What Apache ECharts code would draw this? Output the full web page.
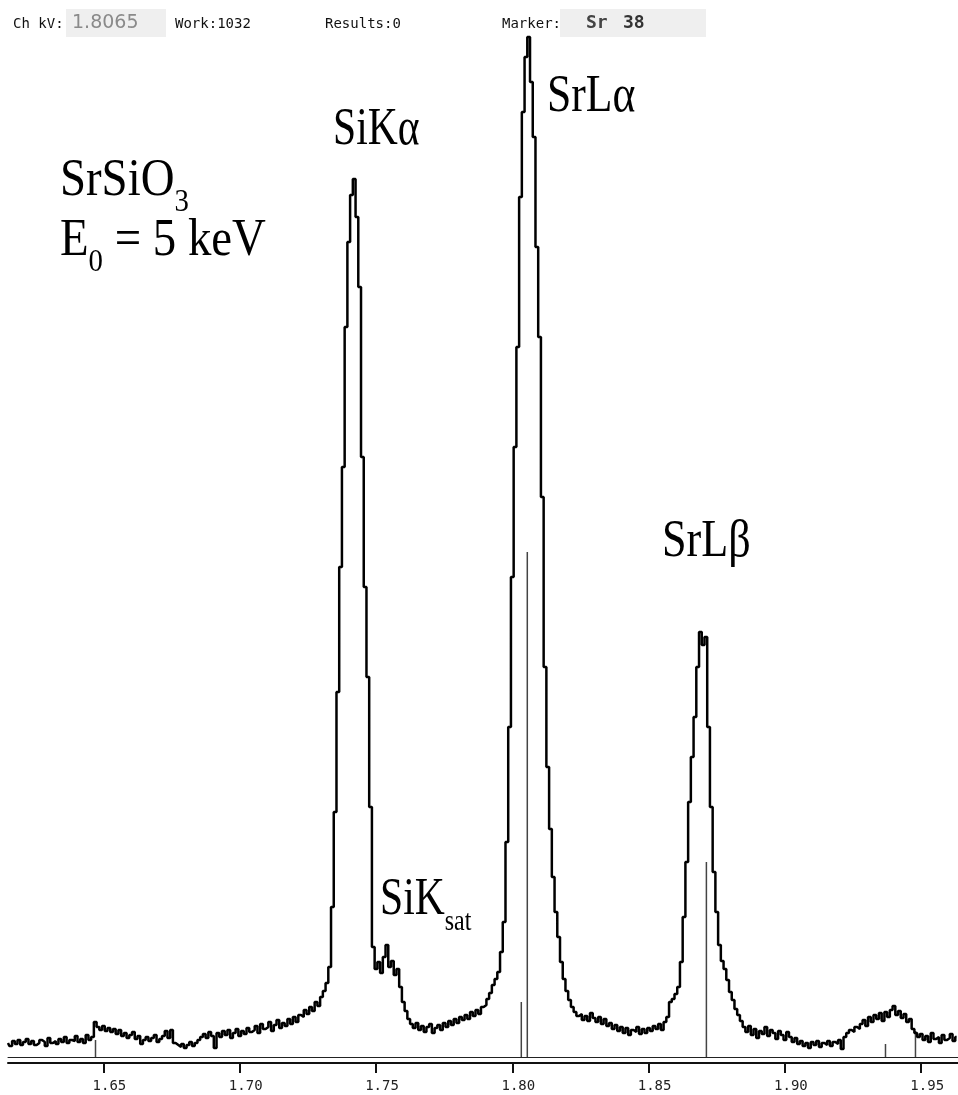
<!DOCTYPE html>
<html>
<head>
<meta charset="utf-8">
<script src="https://cdn.jsdelivr.net/npm/echarts@6/dist/echarts.min.js"></script>
<style>
  html, body { margin: 0; padding: 0; background: #ffffff; }
  #chart { width: 958px; height: 1095px; }
</style>
</head>
<body>
<div id="chart"></div>
<script>
// EDS spectrum of SrSiO3 at E0 = 5 keV, 1 eV channels starting at 1.615 keV
const energyStart = 1.615;   // keV, first channel
const channelWidth = 0.001;  // keV per channel

const counts = [
  14, 11, 16, 13, 17, 12, 15, 18, 13, 16, 12, 14, 17, 15, 11, 19, 14, 16, 13, 18, 15, 20, 14, 17, 16, 21, 15, 18, 14, 22, 17, 20,
  35, 30, 27, 31, 26, 29, 25, 28, 23, 27, 21, 24, 19, 22, 25, 18, 21, 13, 17, 20, 16, 19, 22, 15, 18, 21, 26, 19, 27, 14, 12,
  10, 13, 9, 12, 15, 11, 14, 17,
  20, 23, 19, 25, 21, 9, 24, 20, 26, 22, 27, 19, 24, 28, 21, 26, 23, 29, 25,
  27, 31, 24, 33, 28, 30, 35, 26, 32, 37, 29, 34, 31, 38, 33, 40, 35, 42,
  40, 47, 43, 50, 46, 55, 51, 60, 66,
  74, 90, 150, 245, 365, 490, 590, 730, 815, 862, 878, 840, 770, 600, 470, 380, 250, 110, 88,
  95, 84, 100, 112, 90, 96, 82, 88, 70, 55, 46, 38,
  33, 29, 34, 27, 31, 25, 30, 33, 24, 29, 32, 27, 34, 30, 36, 32, 38, 34, 40, 37, 42, 38, 45, 41, 47, 43,
  50, 52, 58, 64, 72, 78,
  85, 105, 135, 215, 330, 480, 610, 710, 860, 945, 1000,
  1020, 975, 920, 810, 720, 560, 390, 290, 228, 180, 145, 120, 95, 78, 66, 57, 50, 45, 41,
  43, 37, 41, 36, 44, 39, 35, 40, 33, 38, 31, 34, 28, 32, 26, 30, 24, 29, 22, 27, 25, 30, 23, 28, 24, 29, 26, 31, 28, 33, 27,
  35, 40, 55, 58, 63, 70, 95, 140, 195, 255, 300, 340, 390, 425, 412, 420, 330, 250, 185, 145, 112, 96, 88, 77, 65, 57, 48, 42, 36, 30,
  25, 31, 22, 28, 19, 26, 23, 30, 21, 27, 24, 18, 26, 22, 17, 25, 20, 15, 19, 13, 16, 11, 14, 9, 15, 12, 16, 10, 14, 12, 16, 11, 15, 13, 17, 8, 20,
  24, 27, 25, 30, 28, 33, 37, 31, 40, 35, 42, 38, 44, 36, 45, 40, 47, 51, 42, 46, 39, 43, 35, 38, 28, 24,
  20, 23, 17, 21, 15, 24, 18, 20, 14, 22, 17, 19, 23, 16, 20
];

// energy axis ticks
const tickValues = [1.65, 1.70, 1.75, 1.80, 1.85, 1.90, 1.95];
const tickLabels = ['1.65', '1.70', '1.75', '1.80', '1.85', '1.90', '1.95'];

// KLM marker lines for Sr (energy in keV, height in counts)
const markerEnergies = [1.6471, 1.8033, 1.8055, 1.8712, 1.9369, 1.9479];
const markerHeights  = [17, 55, 505, 195, 13, 26];

// status bar fields
const statusLabels = ['Ch kV:', 'Work:1032', 'Results:0', 'Marker:'];
const statusValues = ['1.8065', 'Sr', '38'];

const xMin = 1.615, xMax = 1.9635;

const spectrum = counts.map((c, i) => [+(energyStart + i * channelWidth).toFixed(4), c]);
const markers = markerEnergies.map((e, i) => [e, markerHeights[i]]);

// text helpers: place a condensed serif annotation by left edge and baseline
const measureCtx = document.createElement('canvas').getContext('2d');
const SERIF = '"Liberation Serif", "Times New Roman", serif';
function textWidth(t, fs, sx) {
  measureCtx.font = fs + 'px ' + SERIF;
  return measureCtx.measureText(t).width * sx;
}
function serif(t, left, baseline, fs, sx) {
  return {
    type: 'text', x: left, y: baseline - 0.3375 * fs, scaleX: sx, z: 100,
    style: { text: t, font: fs + 'px ' + SERIF, fill: '#000', align: 'left', verticalAlign: 'middle' }
  };
}
// main text followed by a subscript and optional trailing text
function withSub(main, sub, tail, left, baseline, fs, subFs, drop, sx) {
  const els = [serif(main, left, baseline, fs, sx)];
  let x = left + textWidth(main, fs, sx);
  els.push(serif(sub, x, baseline + drop, subFs, sx));
  x += textWidth(sub, subFs, sx);
  if (tail) els.push(serif(tail, x, baseline, fs, sx));
  return els;
}

const MONO = '"DejaVu Sans Mono", monospace';
function mono(t, left, cy, size, color, weight) {
  return {
    type: 'text', x: left, y: cy, z: 100,
    style: { text: t, font: (weight || 'normal') + ' ' + size + 'px ' + MONO, fill: color, align: 'left', verticalAlign: 'middle' }
  };
}

const graphics = [
  { type: 'rect', shape: { x: 66, y: 9, width: 100, height: 28 }, style: { fill: '#efefef' }, z: 90 },
  { type: 'rect', shape: { x: 560, y: 9, width: 146, height: 28 }, style: { fill: '#efefef' }, z: 90 },
  mono(statusLabels[0], 13, 24, 14, '#111'),
  { type: 'text', x: 72, y: 23, z: 100, style: { text: statusValues[0], font: '19px "DejaVu Sans", sans-serif', fill: '#8a8a8a', align: 'left', verticalAlign: 'middle' } },
  mono(statusLabels[1], 175, 24, 14, '#111'),
  mono(statusLabels[2], 325, 24, 14, '#111'),
  mono(statusLabels[3], 502, 24, 14, '#111'),
  mono(statusValues[1], 586, 23, 18, '#444', 'bold'),
  mono(statusValues[2], 623, 23, 18, '#333', 'bold'),
  serif('SiK\u03b1', 333, 148, 52, 0.8),
  serif('SrL\u03b1', 547, 115, 52, 0.84),
  serif('SrL\u03b2', 662, 560, 52, 0.85),
  ...withSub('SrSiO', '3', null, 60, 199, 52, 32, 14, 0.9),
  ...withSub('E', '0', ' = 5 keV', 60, 259, 52, 32, 14, 0.9),
  ...withSub('SiK', 'sat', null, 380, 918, 52, 30, 14, 0.8)
];

const chart = echarts.init(document.getElementById('chart'), null, { renderer: 'canvas' });
chart.setOption({
  backgroundColor: '#ffffff',
  animation: false,
  grid: { left: 8, right: 0, top: 27, bottom: 38, containLabel: false },
  xAxis: [
    {
      type: 'value', min: xMin, max: xMax, position: 'bottom',
      axisLine: { show: true, lineStyle: { color: '#222', width: 1 } },
      axisTick: { show: false }, axisLabel: { show: false }, splitLine: { show: false }
    },
    {
      type: 'value', min: xMin, max: xMax, position: 'bottom', offset: 6,
      axisLine: { show: true, lineStyle: { color: '#111', width: 2 } },
      axisTick: { show: true, customValues: tickValues, length: 10, lineStyle: { color: '#111', width: 2 } },
      axisLabel: {
        show: true, customValues: tickValues, margin: 16, padding: [0, 0, 0, 12],
        color: '#222', fontSize: 14, fontFamily: 'DejaVu Sans Mono',
        formatter: v => { const k = tickValues.findIndex(t => Math.abs(t - v) < 1e-6); return k >= 0 ? tickLabels[k] : ''; }
      },
      splitLine: { show: false }
    }
  ],
  yAxis: { type: 'value', min: 0, max: 1030, show: false, splitLine: { show: false } },
  series: [
    {
      type: 'custom', xAxisIndex: 0, yAxisIndex: 0, z: 1, silent: true,
      data: markers,
      renderItem: (params, api) => {
        const p0 = api.coord([api.value(0), 0]);
        const p1 = api.coord([api.value(0), api.value(1)]);
        return { type: 'line', shape: { x1: p0[0], y1: p0[1], x2: p1[0], y2: p1[1] }, style: { stroke: '#444', lineWidth: 1.5 } };
      }
    },
    {
      type: 'line', xAxisIndex: 0, yAxisIndex: 0, z: 2, step: 'middle',
      data: spectrum, showSymbol: false, symbol: 'none',
      lineStyle: { color: '#000', width: 2.5 }
    }
  ],
  graphic: graphics
});
</script>
</body>
</html>
